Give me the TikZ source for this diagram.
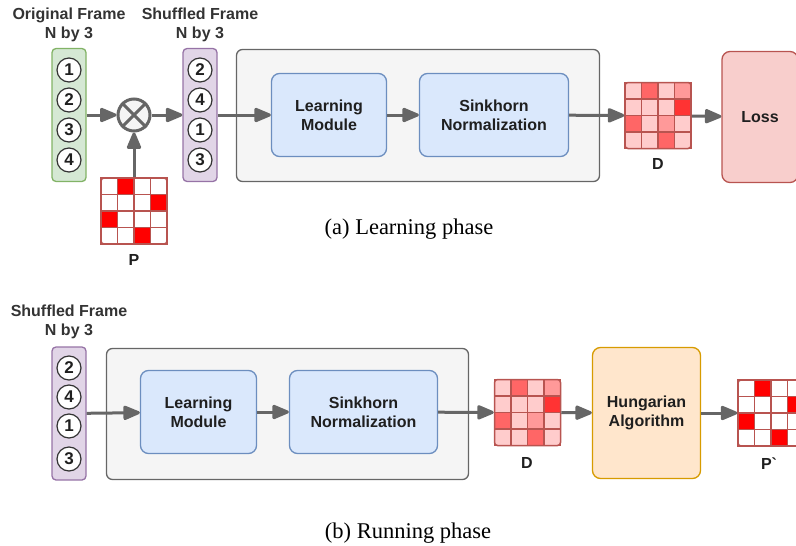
\documentclass[tikz,border=0pt]{standalone}
\usepackage{fontspec}
\setmainfont{Liberation Sans}
\newfontfamily\capfont{Liberation Serif}
\usetikzlibrary{arrows.meta}

\definecolor{txt}{HTML}{1F1F1F}
\definecolor{labelgray}{HTML}{333333}
\definecolor{arrowgray}{HTML}{666666}
\definecolor{greenfill}{HTML}{D5E8D4}
\definecolor{greenline}{HTML}{82B366}
\definecolor{purplefill}{HTML}{E1D5E7}
\definecolor{purpleline}{HTML}{9673A6}
\definecolor{grayfill}{HTML}{F5F5F5}
\definecolor{grayline}{HTML}{666666}
\definecolor{bluefill}{HTML}{DAE8FC}
\definecolor{blueline}{HTML}{6C8EBF}
\definecolor{lossfill}{HTML}{F8CECC}
\definecolor{matline}{HTML}{B85450}
\definecolor{orangefill}{HTML}{FFE6CC}
\definecolor{orangeline}{HTML}{D79B00}
\definecolor{permred}{HTML}{FF0000}
\definecolor{dA}{HTML}{FFCCCC}
\definecolor{dB}{HTML}{FF9999}
\definecolor{dC}{HTML}{FF6666}
\definecolor{dD}{HTML}{FF3333}

\begin{document}
\begin{tikzpicture}[x=1pt, y=-1pt, text=txt, font=\bfseries\fontsize{16}{19}\selectfont,
    frame/.style={draw, rounded corners=4pt, line width=1.3pt, minimum width=34pt, minimum height=133pt},
    num/.style={circle, draw=labelgray, line width=1.2pt, fill=white, minimum size=24pt, inner sep=0pt,
        font=\bfseries\fontsize{17}{19}\selectfont},
    lbl/.style={align=center, text=labelgray},
    block/.style={draw, rounded corners=8pt, line width=1.3pt, align=center},
    arr/.style={draw=arrowgray, line width=3pt, -{Triangle[length=19pt, width=15pt, round]}},
    cell/.style={draw=matline, line width=1.2pt},
    mat/.style={draw=matline, rounded corners=3pt, line width=1.5pt, minimum size=66pt, inner sep=0pt},
    caption/.style={font=\capfont\fontsize{22.5}{27}\selectfont, text=black},
    perm/.pic={
        \foreach \r in {0,...,3} \foreach \c in {0,...,3}
            \draw[cell, fill=white] (-33+16.5*\c, -33+16.5*\r) rectangle +(16.5,16.5);
        \foreach \c/\r in {1/0, 3/1, 0/2, 2/3}
            \draw[cell, fill=permred] (-33+16.5*\c, -33+16.5*\r) rectangle +(16.5,16.5);
        \node[mat] (-box) {};
    },
    dist/.pic={
        \foreach \r in {0,...,3} \foreach \c in {0,...,3}
            \draw[cell, fill=dA] (-33+16.5*\c, -33+16.5*\r) rectangle +(16.5,16.5);
        \foreach \c/\r/\col in {1/0/dC, 3/0/dB, 3/1/dD, 0/2/dC, 2/2/dB, 2/3/dC}
            \draw[cell, fill=\col] (-33+16.5*\c, -33+16.5*\r) rectangle +(16.5,16.5);
        \node[mat] (-box) {};
    }]
    \useasboundingbox (0,0) rectangle (796,546);

    % (a) learning phase
    \node[lbl] at (69,25) {Original Frame\\N by 3};
    \node[lbl] at (200,25) {Shuffled Frame\\N by 3};
    \node[frame, draw=greenline, fill=greenfill] (orig) at (69,115) {};
    \node[frame, draw=purpleline, fill=purplefill] (shuf) at (200,115) {};
    \foreach \n [count=\i] in {1,2,3,4}
        \node[num] at (69,40+30*\i) {\n};
    \foreach \n [count=\i] in {2,4,1,3}
        \node[num] at (200,40+30*\i) {\n};

    \node[circle, draw=arrowgray, fill=grayfill, line width=3pt, minimum size=32pt] (mul) at (134,115) {};
    \draw[arrowgray, line width=3pt] (mul.north west) -- (mul.south east) (mul.north east) -- (mul.south west);

    \pic (P) at (134,211) {perm};
    \node at (134,260) {P};

    \node[block, draw=grayline, fill=grayfill, rounded corners=6pt, minimum width=363pt, minimum height=132pt] (net) at (418,115.5) {};
    \node[block, draw=blueline, fill=bluefill, minimum width=115pt, minimum height=83pt] (lm) at (329,115) {Learning\\Module};
    \node[block, draw=blueline, fill=bluefill, minimum width=149pt, minimum height=83pt] (sink) at (494,115) {Sinkhorn\\Normalization};

    \pic (D) at (658,115.5) {dist};
    \node at (658,164) {D};
    \node[block, draw=matline, fill=lossfill, minimum width=76pt, minimum height=131pt] (loss) at (760,117) {Loss};

    \draw[arr] (orig) -- (mul);
    \draw[arr] (mul) -- (shuf);
    \draw[arr] (P-box) -- (mul);
    \draw[arr] (shuf) -- (lm);
    \draw[arr] (lm) -- (sink);
    \draw[arr] (sink) -- (D-box);
    \draw[arr] (D-box) -- (loss);

    \node[caption] at (409,229) {(a) Learning phase};

    % (b) running phase
    \node[lbl] at (69,322) {Shuffled Frame\\N by 3};
    \node[frame, draw=purpleline, fill=purplefill] (shuf2) at (69,413.5) {};
    \foreach \n/\y in {2/368, 4/397, 1/426, 3/459}
        \node[num] at (69,\y) {\n};

    \node[block, draw=grayline, fill=grayfill, rounded corners=6pt, minimum width=362pt, minimum height=131pt] (net2) at (287.5,414) {};
    \node[block, draw=blueline, fill=bluefill, minimum width=116pt, minimum height=83pt] (lm2) at (198.5,412) {Learning\\Module};
    \node[block, draw=blueline, fill=bluefill, minimum width=148pt, minimum height=83pt] (sink2) at (363.5,412) {Sinkhorn\\Normalization};

    \pic (D2) at (527.5,412.5) {dist};
    \node at (527,463) {D};
    \node[block, draw=orangeline, fill=orangefill, minimum width=108pt, minimum height=131pt] (hung) at (646.5,413) {Hungarian\\Algorithm};
    \pic (P2) at (771,413) {perm};
    \node at (769,464) {P\textasciigrave};

    \draw[arr] (shuf2) -- (lm2);
    \draw[arr] (lm2) -- (sink2);
    \draw[arr] (sink2) -- (D2-box);
    \draw[arr] (D2-box) -- (hung);
    \draw[arr] (hung) -- (P2-box);

    \node[caption] at (408,533) {(b) Running phase};
\end{tikzpicture}
\end{document}
